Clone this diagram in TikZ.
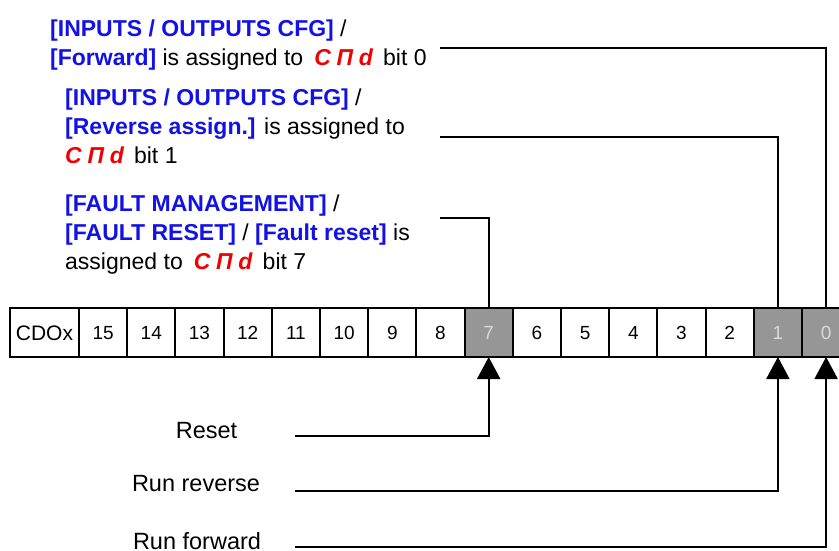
\documentclass[tikz,border=0pt]{standalone}
\usepackage{fontspec}
\setmainfont{Liberation Sans}
\usetikzlibrary{arrows.meta,positioning}
\definecolor{menublue}{RGB}{18,18,230}
\definecolor{codered}{RGB}{240,0,0}
\definecolor{bitgrey}{RGB}{150,150,150}
\newcommand{\cmdcode}{\textcolor{codered}{\textbf{\textit{C\hspace{0.25em}Π\hspace{0.25em}d}}}\hspace{0.15em}}
\newcommand{\menu}[1]{\textcolor{menublue}{\textbf{#1}}}

\begin{document}
\begin{tikzpicture}[x=1pt, y=-1pt,
	bitbox/.style={draw, line width=2pt, outer sep=0pt, inner sep=0pt, minimum width=48.2pt, minimum height=49pt, text height=13.7pt, text depth=0pt, font=\fontsize{19}{22}\selectfont},
	setbit/.style={bitbox, fill=bitgrey, text=white!85!black},
	info/.style={anchor=north west, align=left, inner sep=0pt, font=\fontsize{23}{29}\selectfont},
	cmdlabel/.style={anchor=base, inner sep=0pt, font=\fontsize{23.5}{26}\selectfont},
	link/.style={line width=2pt},
	feed/.style={line width=2pt, -{Triangle[width=23pt, length=22pt]}}]
	\useasboundingbox (0,0) rectangle (839,550);
	\clip (0,0) rectangle (839,550);
	% register
	\node [bitbox, minimum width=69pt, font=\fontsize{21}{24}\selectfont, text height=15pt] (cdox) at (44.5, 332.5) {CDOx};
	\foreach \n in {15,14,...,0} {
		\ifnum\n=7 \def\sty{setbit}\else\ifnum\n<2 \def\sty{setbit}\else\def\sty{bitbox}\fi\fi
		\node [\sty] (c\n) at ({103.1+48.2*(15-\n)}, 332.5) {\n};
	}
	% assignments
	\node [info] (fwd) at (50, 19.2) {\menu{[INPUTS / OUTPUTS CFG]} /\\
		\menu{[Forward]} is assigned to \hspace{0.2em}\cmdcode{} bit 0};
	\node [info] (rev) at (65, 88.2) {\menu{[INPUTS / OUTPUTS CFG]} /\\
		\menu{[Reverse assign.]} is assigned to\\
		\cmdcode{} bit 1};
	\node [info] (rst) at (65, 194.9) {\menu{[FAULT MANAGEMENT]} /\\
		\menu{[FAULT RESET]} / \menu{[Fault reset]} is\\
		assigned to \hspace{0.2em}\cmdcode{} bit 7};
	\coordinate (f0) at (440, 48);
	\coordinate (f1) at (440, 137);
	\coordinate (f7) at (440, 218);
	\draw [link] (f0) -| (c0.north);
	\draw [link] (f1) -| (c1.north);
	\draw [link] (f7) -| (c7.north);
	% commands
	\node [cmdlabel] (reset) at (206.5, 438) {Reset};
	\node [cmdlabel] (runrev) at (196, 491.5) {Run reverse};
	\node [cmdlabel] (runfwd) at (197, 549) {Run forward};
	\coordinate (r7) at (295, 436);
	\coordinate (r1) at (295, 491);
	\coordinate (r0) at (295, 547);
	\draw [feed] (r7) -| (c7.south);
	\draw [feed] (r1) -| (c1.south);
	\draw [feed] (r0) -| (c0.south);
\end{tikzpicture}
\end{document}
